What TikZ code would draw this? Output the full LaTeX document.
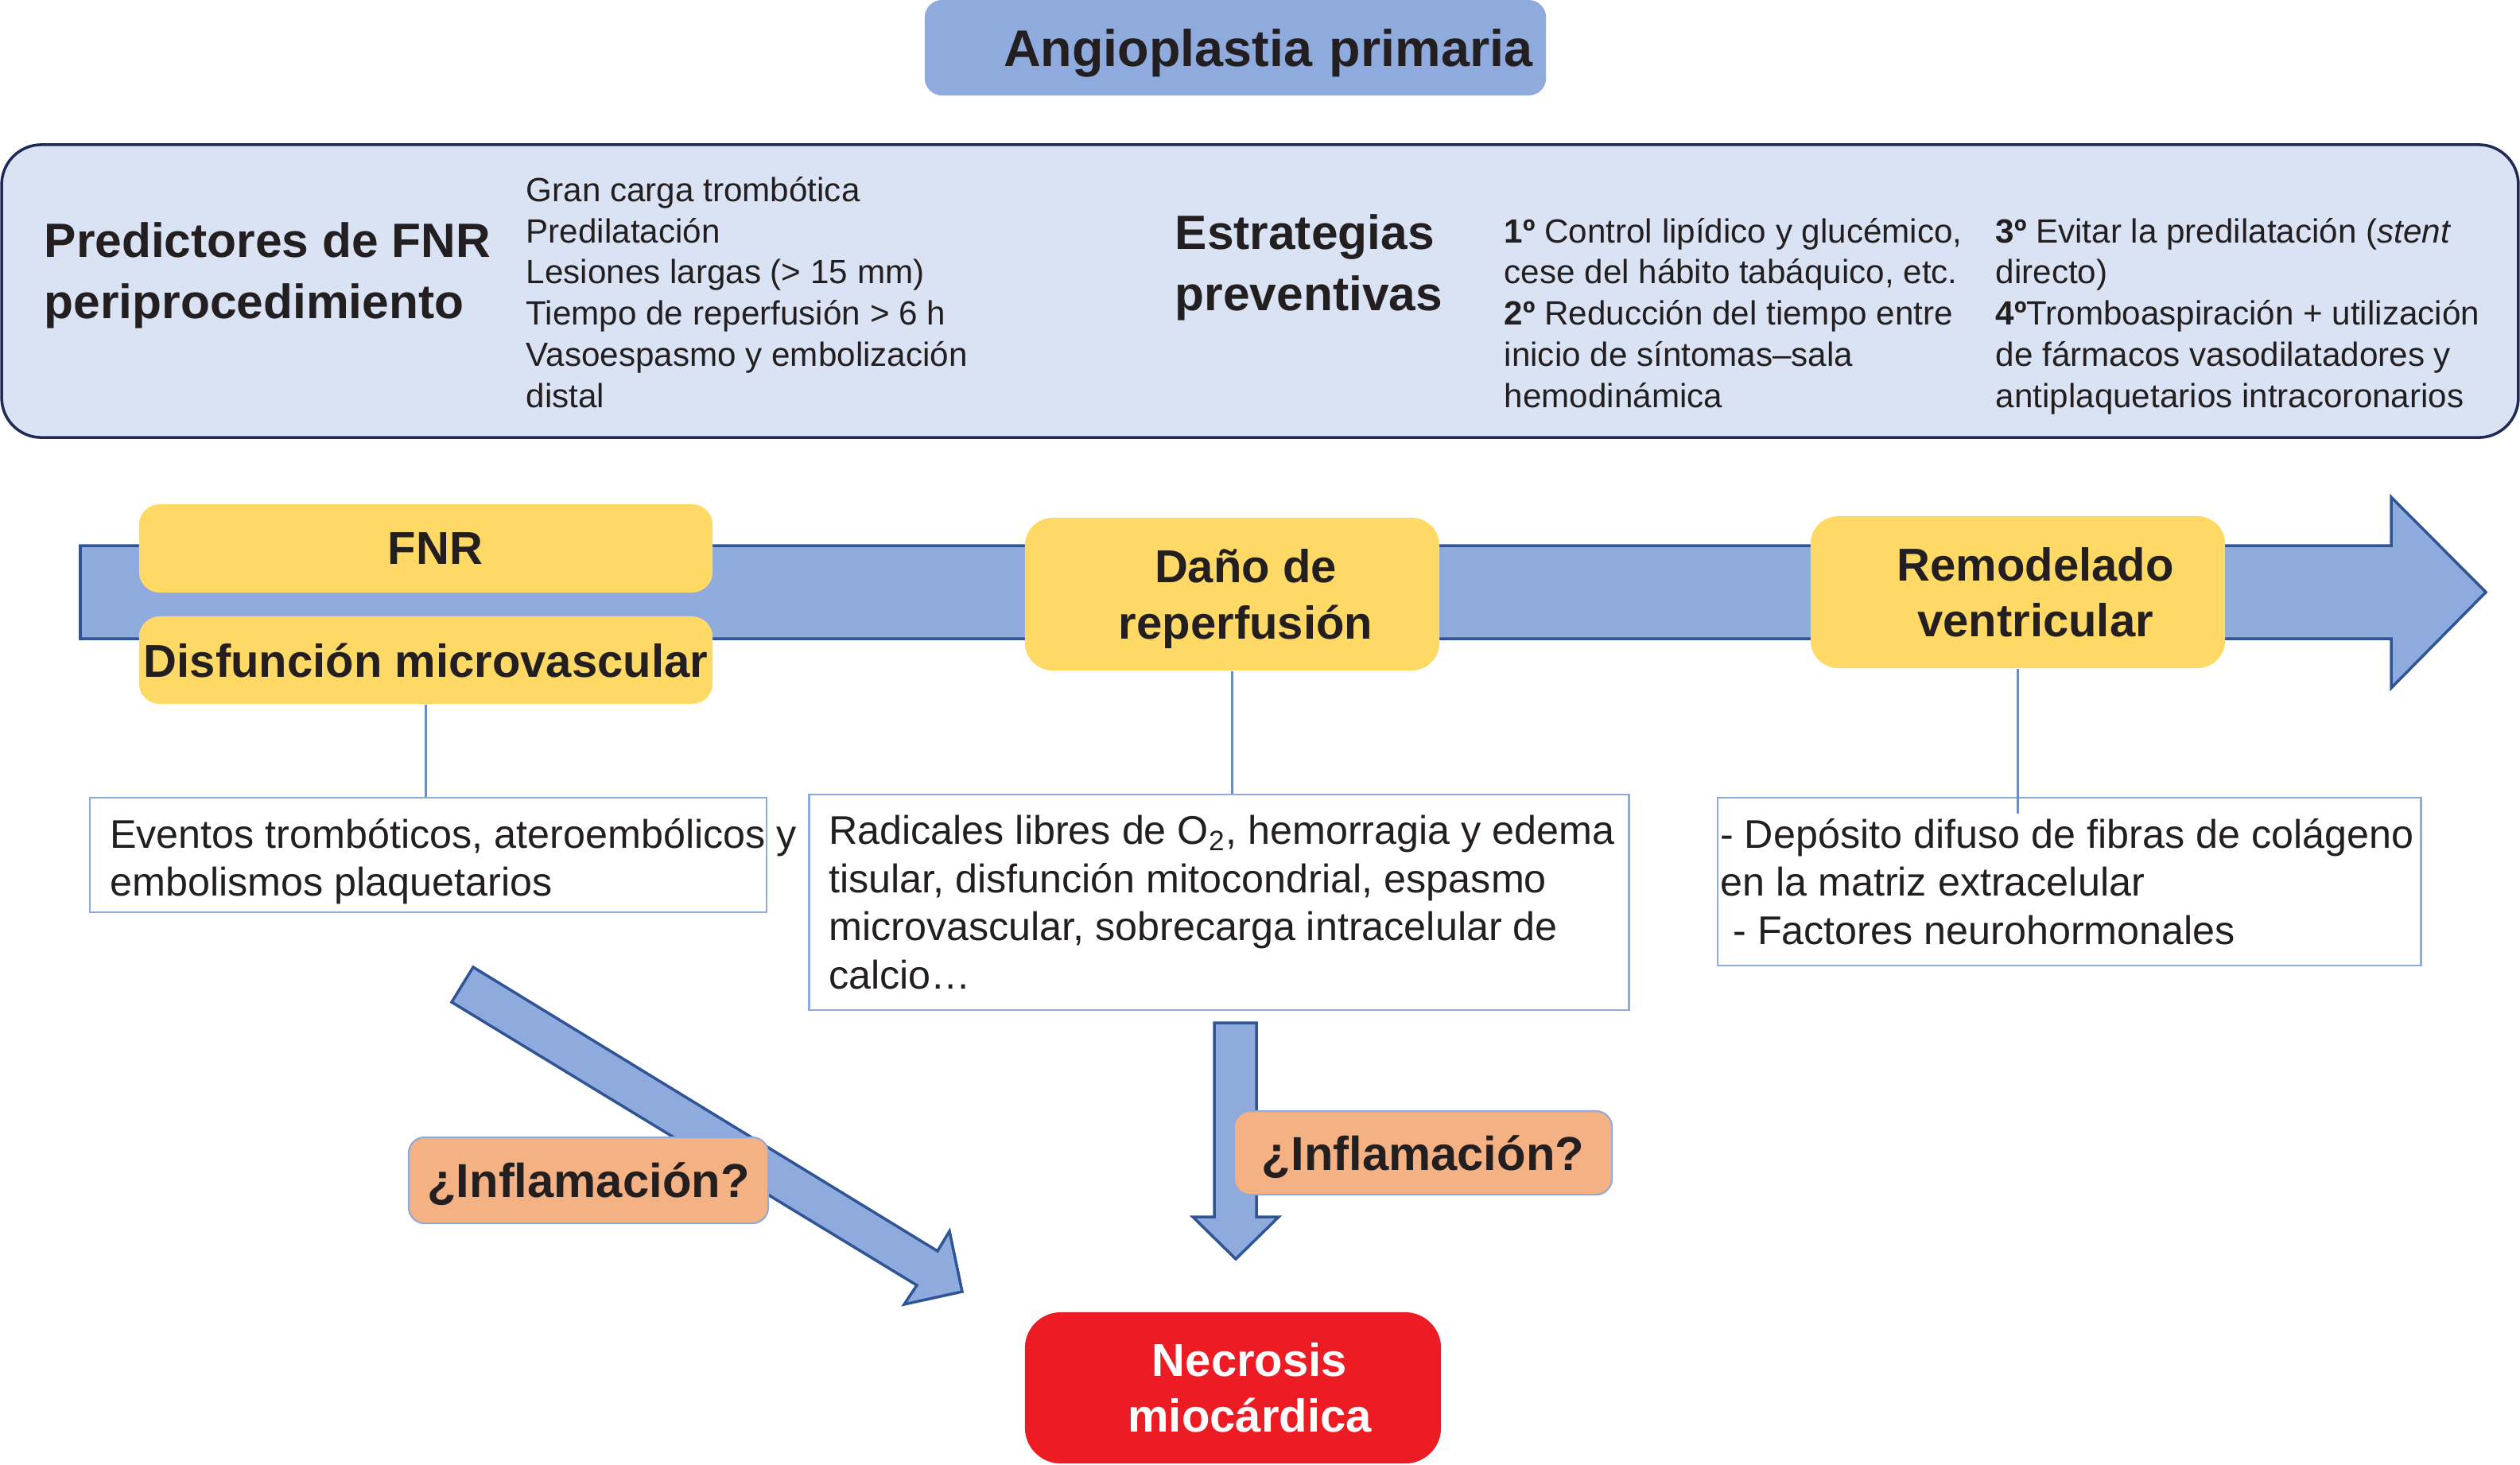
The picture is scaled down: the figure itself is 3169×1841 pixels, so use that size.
\documentclass[tikz,border=0pt]{standalone}
\usepackage{fontspec}
\setmainfont{Liberation Sans}
\usetikzlibrary{positioning, calc, shapes}

\definecolor{azulclaro}{HTML}{8FAADC}
\definecolor{azulpanel}{HTML}{DAE3F3}
\definecolor{azulborde}{HTML}{2F5597}
\definecolor{marino}{HTML}{1F2A56}
\definecolor{amarillo}{HTML}{FFD966}
\definecolor{naranja}{HTML}{F4B183}
\definecolor{rojo}{HTML}{ED1C24}
\definecolor{linea}{HTML}{6F8BC4}
\definecolor{tinta}{HTML}{231F20}

\newcommand{\fsz}[2]{\fontsize{#1}{#2}\selectfont}

\begin{document}
\begin{tikzpicture}[x=0.01cm, y=-0.01cm, text=tinta,
  titbox/.style={rectangle, rounded corners=0.22cm, fill=azulclaro, text depth=0pt, font=\fsz{18.4}{22}\bfseries},
  panelbox/.style={rectangle, rounded corners=0.5cm, draw=marino, line width=1pt, fill=azulpanel},
  cabecera/.style={font=\fsz{17.2}{21.9}\bfseries, align=left, inner sep=0},
  lista/.style={font=\fsz{12}{14.7}, align=left, inner sep=0},
  etapa/.style={rectangle, rounded corners=0.26cm, fill=amarillo, align=center, inner sep=0.05cm, font=\fsz{16.5}{20}\bfseries},
  rotulo/.style={font=\fsz{16.5}{20}\bfseries, align=center, inner sep=0},
  cuadro/.style={rectangle, draw=azulclaro, line width=0.7pt, fill=white},
  nota/.style={font=\fsz{14.3}{17.2}, align=left, inner sep=0},
  inflam/.style={rectangle, rounded corners=0.2cm, fill=naranja, draw=azulclaro, line width=0.6pt, text depth=0pt, font=\fsz{17}{20}\bfseries},
  necro/.style={rectangle, rounded corners=0.45cm, fill=rojo},
  flecha/.style={fill=azulclaro, draw=azulborde, line width=1pt, line join=miter},
  conector/.style={draw=linea, line width=0.6pt}]
  \useasboundingbox (0,0) rectangle (3169,1841);

  % titulo y panel superior
  \node[titbox, minimum width=7.81cm, minimum height=1.2cm, text width=7.47cm, inner xsep=0.17cm, align=right] (titulo) at (1553.5,60) {Angioplastia primaria};
  \node[panelbox, minimum width=31.63cm, minimum height=3.68cm] (panel) at (1584.5,366) {};
  \node[cabecera, anchor=base west] (predtit) at (55,400) {Predictores de FNR\\periprocedimiento};
  \node[lista, anchor=base west] (predlist) at (661,512) {Gran carga trombótica\\Predilatación\\Lesiones largas (> 15 mm)\\Tiempo de reperfusión > 6 h\\Vasoespasmo y embolización\\distal};
  \node[cabecera, anchor=base west] (esttit) at (1477,390) {Estrategias\\preventivas};
  \node[lista, anchor=base west] (est1) at (1891,512) {\textbf{1º} Control lipídico y glucémico,\\cese del hábito tabáquico, etc.\\\textbf{2º} Reducción del tiempo entre\\inicio de síntomas–sala\\hemodinámica};
  \node[lista, anchor=base west] (est2) at (2509,512) {\textbf{3º} Evitar la predilatación (\textit{stent}\\directo)\\\textbf{4º}Tromboaspiración + utilización\\de fármacos vasodilatadores y\\antiplaquetarios intracoronarios};

  % flecha temporal
  \draw[flecha] (101,686) -- (3007,686) -- (3007,625) -- (3126,744.5) -- (3007,865) -- (3007,803) -- (101,803) -- cycle;
  \node[etapa, minimum width=7.21cm, minimum height=1.11cm] (fnr) at (535.5,689.5) {};
  \node[rotulo] (fnrtxt) at ([xshift=0.12cm]fnr.center) {FNR};
  \node[etapa, minimum width=7.21cm, minimum height=1.10cm] (disf) at (535.5,830) {Disfunción microvascular};
  \node[etapa, minimum width=5.21cm, minimum height=1.92cm, rounded corners=0.35cm] (dano) at (1549.5,747) {};
  \node[rotulo] (danotxt) at ([xshift=0.17cm, yshift=-0.06cm]dano.center) {Daño de\\reperfusión};
  \node[etapa, minimum width=5.21cm, minimum height=1.91cm, rounded corners=0.35cm] (remod) at (2537.5,744.5) {};
  \node[rotulo] (remodtxt) at ([xshift=0.22cm]remod.center) {Remodelado\\ventricular};

  % mecanismos
  \node[cuadro, minimum width=8.51cm, minimum height=1.44cm] (evt) at (538.5,1075) {};
  \node[nota, anchor=west] (evttxt) at ([xshift=0.26cm, yshift=-0.08cm]evt.west) {Eventos trombóticos, ateroembólicos y\\embolismos plaquetarios};
  \node[cuadro, minimum width=10.30cm, minimum height=2.71cm] (rad) at (1533,1134.5) {};
  \node[nota, anchor=west] (radtxt) at ([xshift=0.25cm]rad.west) {Radicales libres de O\textsubscript{2}, hemorragia y edema\\tisular, disfunción mitocondrial, espasmo\\microvascular, sobrecarga intracelular de\\calcio…};
  \node[cuadro, minimum width=8.84cm, minimum height=2.11cm] (dep) at (2602,1108.5) {};
  \node[nota, anchor=west] (deptxt) at ([xshift=0.04cm]dep.west) {- Depósito difuso de fibras de colágeno\\en la matriz extracelular\\\hspace{4.6pt}- Factores neurohormonales};

  \draw[conector] (disf.south) -- (disf.south |- evt.north);
  \draw[conector] (dano.south) -- (dano.south |- rad.north);
  \draw[conector] (remod.south) -- ($(remod.south |- dep.north)+(0,21)$);

  % hacia la necrosis
  \draw[flecha] (595,1216) -- (1179,1573) -- (1194,1548) -- (1210,1624) -- (1137,1640) -- (1153,1616) -- (568,1260) -- cycle;
  \draw[flecha] (1527,1286) -- (1580,1286) -- (1580,1530) -- (1608,1530) -- (1554,1583) -- (1500,1530) -- (1527,1530) -- cycle;
  \node[inflam, minimum width=4.52cm, minimum height=1.08cm] (inf1) at (740,1484) {¿Inflamación?};
  \node[inflam, minimum width=4.75cm, minimum height=1.05cm] (inf2) at (1789.5,1449.5) {¿Inflamación?};
  \node[necro, minimum width=5.23cm, minimum height=1.90cm] (necro) at (1550.5,1745) {};
  \node[rotulo, text=white] (necrotxt) at ([xshift=0.21cm]necro.center) {Necrosis\\miocárdica};
\end{tikzpicture}
\end{document}
